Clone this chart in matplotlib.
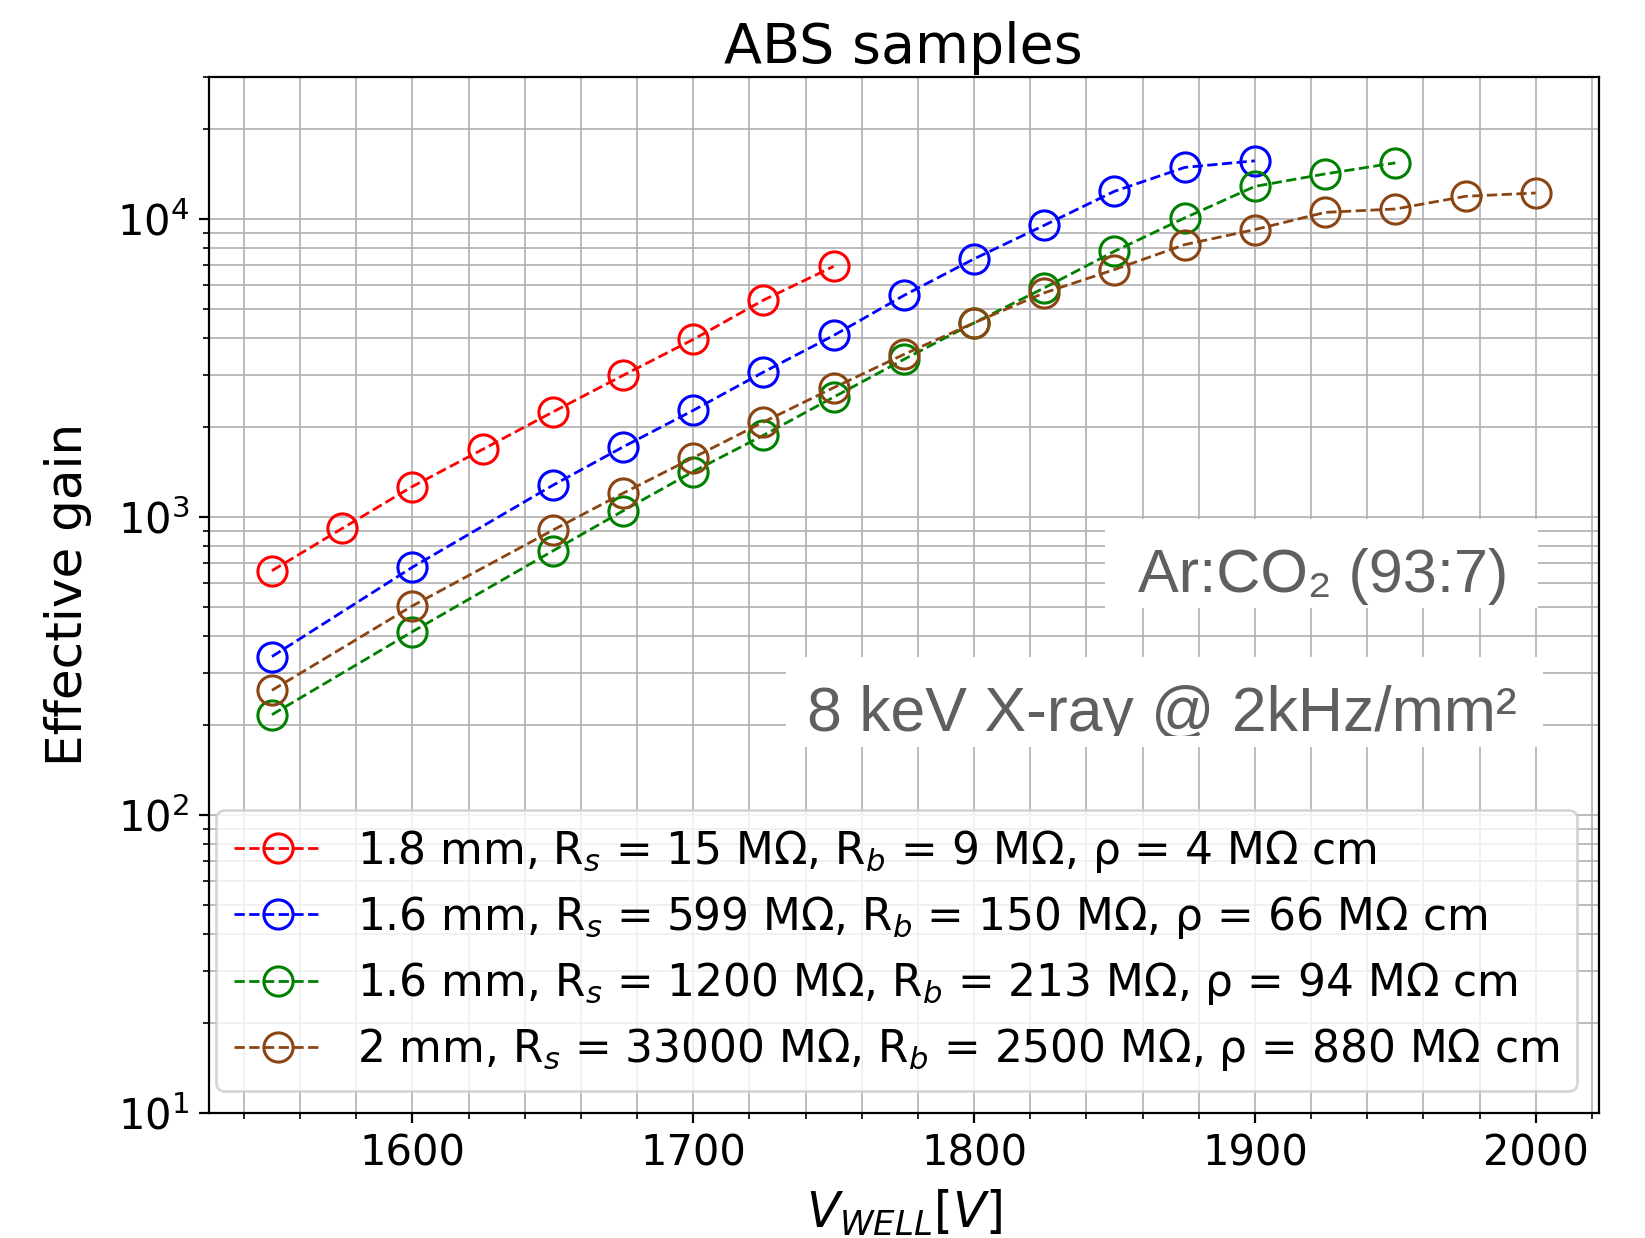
import matplotlib
matplotlib.use('Agg')
import matplotlib.pyplot as plt
from matplotlib.patches import Rectangle
from matplotlib.ticker import AutoMinorLocator

# ---------------- data ----------------
voltage_red = [1550, 1575, 1600, 1625, 1650, 1675, 1700, 1725, 1750]
gain_red = [660, 915, 1265, 1685, 2250, 2985, 3940, 5340, 6930]

voltage_blue = [1550, 1600, 1650, 1675, 1700, 1725, 1750, 1775, 1800, 1825, 1850, 1875, 1900]
gain_blue = [340, 678, 1277, 1717, 2278, 3062, 4064, 5535, 7345, 9520, 12380, 14890, 15670]

voltage_green = [1550, 1600, 1650, 1675, 1700, 1725, 1750, 1775, 1800, 1825, 1850, 1875,
                 1900, 1925, 1950]
gain_green = [217, 412, 769, 1048, 1420, 1879, 2524, 3378, 4480, 5870, 7790, 10080,
              12860, 14160, 15420]

voltage_brown = [1550, 1600, 1650, 1675, 1700, 1725, 1750, 1775, 1800, 1825, 1850, 1875,
                 1900, 1925, 1950, 1975, 2000]
gain_brown = [262, 503, 903, 1201, 1581, 2082, 2715, 3510, 4480, 5650, 6763, 8200,
              9210, 10520, 10800, 11910, 12220]

labels = [
    r"1.8 mm, R$_s$ = 15 MΩ, R$_b$ = 9 MΩ, ρ = 4 MΩ cm",
    r"1.6 mm, R$_s$ = 599 MΩ, R$_b$ = 150 MΩ, ρ = 66 MΩ cm",
    r"1.6 mm, R$_s$ = 1200 MΩ, R$_b$ = 213 MΩ, ρ = 94 MΩ cm",
    r"2 mm, R$_s$ = 33000 MΩ, R$_b$ = 2500 MΩ, ρ = 880 MΩ cm",
]
colors = ['red', 'blue', 'green', 'saddlebrown']

title = "ABS samples"
xlabel = r"$V_{WELL}[V]$"
ylabel = "Effective gain"
gas_text = "Ar:CO₂ (93:7)"
beam_text = "8 keV X-ray @ 2kHz/mm²"

# ---------------- figure ----------------
fig = plt.figure(figsize=(8.225, 6.19), dpi=200)
ax = fig.add_axes([0.1269, 0.1010, 0.8451, 0.8370])

series = [(voltage_red, gain_red), (voltage_blue, gain_blue),
          (voltage_green, gain_green), (voltage_brown, gain_brown)]
for (xv, yv), c, lab in zip(series, colors, labels):
    ax.plot(xv, yv, linestyle='--', marker='o', color=c, mfc='none', mec=c,
            ms=10.5, mew=1.1, lw=1.0, label=lab, zorder=3)

ax.set_yscale('log')
ax.set_ylim(10, 3e4)
ax.xaxis.set_minor_locator(AutoMinorLocator())
ax.grid(True, which='both', color='#b0b0b0', lw=0.6)
ax.tick_params(labelsize=15)

ax.set_title(title, fontsize=20, pad=5)
ax.set_xlabel(xlabel, fontsize=17.5)
ax.xaxis.set_label_coords(0.5, -0.0724)
ax.set_ylabel(ylabel, fontsize=18)
ax.yaxis.set_label_coords(-0.0838, 0.5)

# annotation boxes
gray = '#5f5f5f'
ann_family = ['Liberation Sans', 'DejaVu Sans']
box1 = Rectangle((0.6447, 0.4873), 0.9561 - 0.6447, 0.5732 - 0.4873,
                 transform=ax.transAxes, facecolor='white', edgecolor='none', zorder=2.6)
ax.add_patch(box1)
ax.text(0.6683, 0.5027, gas_text, transform=ax.transAxes, fontsize=22, color=gray,
        family=ann_family, va='baseline', ha='left', zorder=2.7)

box2 = Rectangle((0.4154, 0.3532), 0.9599 - 0.4154, 0.4400 - 0.3532,
                 transform=ax.transAxes, facecolor='white', edgecolor='none', zorder=2.6)
ax.add_patch(box2)
clip2 = Rectangle((0.4154, 0.3638), 0.9599 - 0.4154, 0.4400 - 0.3638,
                  transform=ax.transAxes)
t2 = ax.text(0.4303, 0.3686, beam_text, transform=ax.transAxes, fontsize=22.5, color=gray,
             family=ann_family, va='baseline', ha='left', zorder=2.7)
t2.set_clip_path(clip2)
t2.set_clip_on(True)

ax.legend(loc='lower right', fontsize=15.8, labelspacing=0.44)

fig.savefig('out.png', dpi=200)
